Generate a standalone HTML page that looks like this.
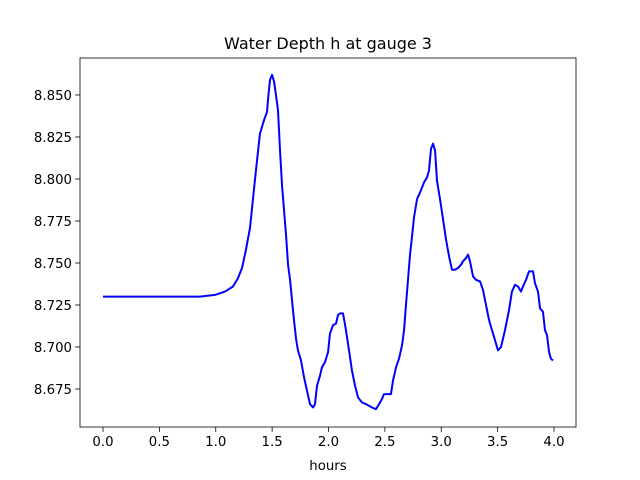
<!DOCTYPE html>
<html><head><meta charset="utf-8"><style>
html,body{margin:0;padding:0;background:#fff;}
svg{display:block;font-family:"DejaVu Sans","Liberation Sans",sans-serif;}
</style></head><body>
<svg id="chart" width="640" height="480" viewBox="0 0 640 480" xmlns="http://www.w3.org/2000/svg">
<rect width="640" height="480" fill="#fff"/>
<text x="328" y="49" text-anchor="middle" font-size="16" fill="#000">Water Depth h at gauge 3</text>
<text x="328" y="470" text-anchor="middle" font-size="13.3" fill="#000">hours</text>
<g id="axes"></g>
</svg>
<script>
const hours = [0,0.683,0.860,0.993,1.082,1.153,1.197,1.233,1.268,1.304,1.339,1.366,1.392,1.428,1.455,1.463,1.481,1.499,1.517,1.534,1.552,1.570,1.588,1.605,1.623,1.641,1.659,1.676,1.694,1.712,1.729,1.756,1.783,1.809,1.836,1.863,1.880,1.898,1.925,1.942,1.969,1.996,2.013,2.040,2.067,2.084,2.102,2.129,2.155,2.182,2.208,2.235,2.262,2.297,2.333,2.386,2.421,2.448,2.474,2.492,2.510,2.554,2.572,2.599,2.625,2.652,2.670,2.687,2.705,2.723,2.741,2.758,2.785,2.812,2.847,2.874,2.891,2.909,2.927,2.945,2.962,2.989,3.016,3.042,3.069,3.095,3.122,3.149,3.175,3.193,3.220,3.237,3.255,3.282,3.308,3.344,3.370,3.397,3.424,3.450,3.477,3.503,3.530,3.565,3.601,3.627,3.654,3.681,3.707,3.725,3.752,3.778,3.814,3.831,3.858,3.876,3.902,3.920,3.938,3.956,3.973,3.991];
const depth = [8.730,8.730,8.730,8.731,8.733,8.736,8.741,8.747,8.758,8.771,8.794,8.811,8.827,8.835,8.840,8.847,8.859,8.862,8.858,8.850,8.841,8.817,8.796,8.782,8.767,8.749,8.740,8.728,8.716,8.705,8.698,8.692,8.682,8.674,8.666,8.664,8.666,8.677,8.683,8.688,8.691,8.697,8.708,8.713,8.714,8.719,8.720,8.720,8.710,8.698,8.686,8.677,8.670,8.667,8.666,8.664,8.663,8.666,8.669,8.672,8.672,8.672,8.680,8.688,8.693,8.701,8.710,8.725,8.740,8.755,8.766,8.777,8.788,8.792,8.798,8.801,8.805,8.818,8.821,8.817,8.799,8.788,8.776,8.764,8.754,8.746,8.746,8.747,8.749,8.751,8.753,8.755,8.751,8.742,8.740,8.739,8.734,8.725,8.716,8.710,8.704,8.698,8.700,8.710,8.722,8.733,8.737,8.736,8.733,8.736,8.740,8.745,8.745,8.738,8.733,8.723,8.721,8.710,8.707,8.697,8.693,8.692];
const xTicks = [0,0.5,1,1.5,2,2.5,3,3.5,4];
const xTickLabels = ["0.0","0.5","1.0","1.5","2.0","2.5","3.0","3.5","4.0"];
const yTicks = [8.675,8.700,8.725,8.750,8.775,8.800,8.825,8.850];
const yTickLabels = ["8.675","8.700","8.725","8.750","8.775","8.800","8.825","8.850"];

const L=80,R=576,T=58,B=427;
const xMin=-0.204,xMax=4.195,yMin=8.6524,yMax=8.8720;
const sx=v=>L+(v-xMin)/(xMax-xMin)*(R-L);
const sy=v=>B-(v-yMin)/(yMax-yMin)*(B-T);
const NS="http://www.w3.org/2000/svg";
const g=document.getElementById('axes');
function mk(tag,attrs){const e=document.createElementNS(NS,tag);for(const k in attrs)e.setAttribute(k,attrs[k]);g.appendChild(e);return e;}

const line=mk('polyline',{points:hours.map((h,i)=>sx(h).toFixed(2)+','+sy(depth[i]).toFixed(2)).join(' '),fill:'none',stroke:'#0000ff','stroke-width':'2','stroke-linejoin':'round'});



xTicks.forEach((t,i)=>{
  const x=sx(t);
  const tk=mk('line',{x1:x,x2:x,y1:B,y2:B+4.9,stroke:'#000','stroke-width':'0.8'});
  
  
  const lb=mk('text',{x:x,y:B+19,'text-anchor':'middle','font-size':'13.3',fill:'#000'});
  lb.textContent=xTickLabels[i];
  
  
});
yTicks.forEach((t,i)=>{
  const y=sy(t);
  const tk=mk('line',{x1:L-4.9,x2:L,y1:y,y2:y,stroke:'#000','stroke-width':'0.8'});
  
  
  const lb=mk('text',{x:L-8,y:y+5,'text-anchor':'end','font-size':'13.3',fill:'#000'});
  lb.textContent=yTickLabels[i];
  
  
});
const frame=mk('rect',{x:L,y:T,width:R-L,height:B-T,fill:'none',stroke:'#000','stroke-width':'0.8'});


</script>
</body></html>
